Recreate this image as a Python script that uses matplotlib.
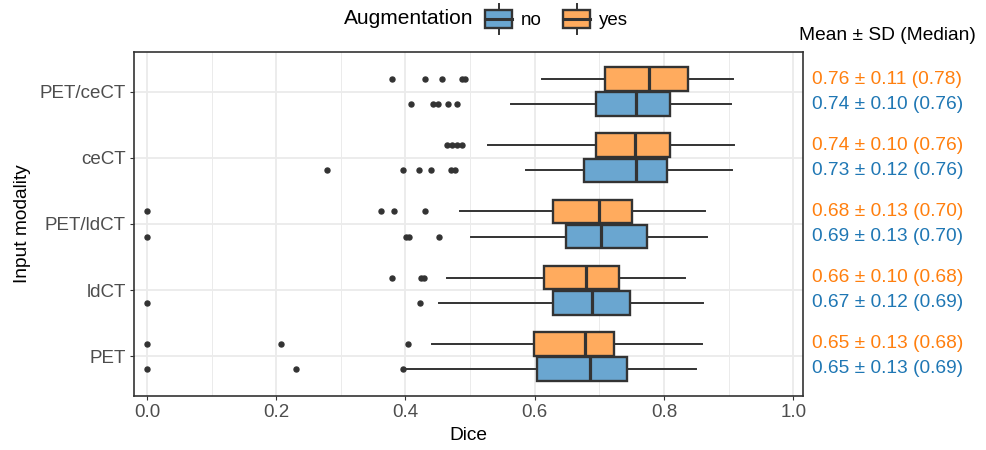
import matplotlib.pyplot as plt
from matplotlib.patches import Rectangle, Patch
from matplotlib.lines import Line2D
from matplotlib.legend_handler import HandlerBase
from matplotlib.transforms import blended_transform_factory

plt.rcParams['font.family'] = ['Liberation Sans', 'DejaVu Sans']

# modalities from bottom to top
modalities = ["PET", "ldCT", "PET/ldCT", "ceCT", "PET/ceCT"]

# box statistics, augmentation = yes
yes_whislo = [0.441, 0.465, 0.485, 0.528, 0.611]
yes_q1 = [0.599, 0.614, 0.628, 0.695, 0.708]
yes_med = [0.677, 0.679, 0.700, 0.755, 0.777]
yes_q3 = [0.723, 0.731, 0.750, 0.810, 0.837]
yes_whishi = [0.858, 0.832, 0.864, 0.908, 0.907]
yes_fliers = [
    [0.0, 0.207, 0.404],
    [0.379, 0.424, 0.428],
    [0.0, 0.362, 0.383, 0.430],
    [0.465, 0.472, 0.480, 0.488],
    [0.379, 0.430, 0.456, 0.487, 0.492],
]

# box statistics, augmentation = no
no_whislo = [0.399, 0.452, 0.501, 0.587, 0.564]
no_q1 = [0.604, 0.629, 0.648, 0.676, 0.695]
no_med = [0.686, 0.689, 0.703, 0.756, 0.756]
no_q3 = [0.742, 0.748, 0.773, 0.805, 0.809]
no_whishi = [0.850, 0.860, 0.867, 0.905, 0.903]
no_fliers = [
    [0.0, 0.230, 0.396],
    [0.0, 0.422],
    [0.0, 0.401, 0.405, 0.452],
    [0.279, 0.396, 0.421, 0.440, 0.470, 0.477],
    [0.408, 0.443, 0.451, 0.466, 0.480],
]

# summary labels
yes_labels = ["0.65 ± 0.13 (0.68)", "0.66 ± 0.10 (0.68)", "0.68 ± 0.13 (0.70)",
              "0.74 ± 0.10 (0.76)", "0.76 ± 0.11 (0.78)"]
no_labels = ["0.65 ± 0.13 (0.69)", "0.67 ± 0.12 (0.69)", "0.69 ± 0.13 (0.70)",
             "0.73 ± 0.12 (0.76)", "0.74 ± 0.10 (0.76)"]

BLUE = "#1f77b4"
ORANGE = "#ff7f0e"
BLUE_FILL = "#6aa6d0"
ORANGE_FILL = "#ffab5e"
EDGE = "#333333"


def make_stats(lo, q1, med, q3, hi, fl):
    return [dict(whislo=a, q1=b, med=c, q3=d, whishi=e, fliers=f)
            for a, b, c, d, e, f in zip(lo, q1, med, q3, hi, fl)]


fig = plt.figure(figsize=(9.87, 4.5), dpi=100)
ax = fig.add_axes([134 / 987, 1 - 396 / 450, (803 - 134) / 987, (396 - 52) / 450])

pos = list(range(1, len(modalities) + 1))
off = 0.19
bw = 0.36

groups = [
    (make_stats(yes_whislo, yes_q1, yes_med, yes_q3, yes_whishi, yes_fliers), +off, ORANGE_FILL),
    (make_stats(no_whislo, no_q1, no_med, no_q3, no_whishi, no_fliers), -off, BLUE_FILL),
]
for stats, dy, fill in groups:
    ax.bxp(stats, positions=[p + dy for p in pos], widths=bw, vert=False,
           showcaps=False, patch_artist=True,
           boxprops=dict(facecolor=fill, edgecolor=EDGE, linewidth=1.7),
           medianprops=dict(color=EDGE, linewidth=2.3),
           whiskerprops=dict(color=EDGE, linewidth=1.4),
           flierprops=dict(marker='o', markersize=3.6, markerfacecolor=EDGE,
                           markeredgecolor=EDGE),
           zorder=3)

ax.set_xlim(-0.02, 1.015)
ax.set_ylim(0.4, 5.6)
ax.set_yticks(pos)
ax.set_yticklabels(modalities)
ax.set_xticks([0, 0.2, 0.4, 0.6, 0.8, 1.0])
ax.set_xticklabels(["0.0", "0.2", "0.4", "0.6", "0.8", "1.0"])
ax.set_xticks([0.1, 0.3, 0.5, 0.7, 0.9], minor=True)

ax.grid(True, which='major', color='#ebebeb', linewidth=1.3, zorder=0)
ax.grid(True, which='minor', axis='x', color='#ebebeb', linewidth=0.7, zorder=0)
ax.set_axisbelow(True)
ax.tick_params(which='major', length=3, color=EDGE, labelsize=13.5,
               labelcolor='#4d4d4d', pad=3)
ax.tick_params(which='minor', length=0)
for s in ax.spines.values():
    s.set_color(EDGE)
    s.set_linewidth(1.2)

ax.set_xlabel("Dice", fontsize=13.8, labelpad=4)
ax.set_ylabel("Input modality", fontsize=13.8, labelpad=6)

# mean/SD/median column on the right
tr = blended_transform_factory(fig.transFigure, ax.transData)
for p, ty, tn in zip(pos, yes_labels, no_labels):
    ax.text(812 / 987, p + off, ty, transform=tr, color=ORANGE, fontsize=13.8,
            va='center', ha='left', clip_on=False)
    ax.text(812 / 987, p - off, tn, transform=tr, color=BLUE, fontsize=13.8,
            va='center', ha='left', clip_on=False)
fig.text(887 / 987, 1 - 36 / 450, "Mean ± SD (Median)", fontsize=13.8,
         ha='center', va='center')


class BoxKey(HandlerBase):
    def create_artists(self, legend, orig_handle, xdescent, ydescent,
                       width, height, fontsize, trans):
        cx = width / 2 - xdescent
        cy = height / 2 - ydescent
        bh = 13.0
        ext = 4.5
        rect = Rectangle((-xdescent, cy - bh / 2), width, bh,
                         facecolor=orig_handle.get_facecolor(), edgecolor=EDGE,
                         linewidth=1.7, transform=trans)
        med = Line2D([-xdescent, width - xdescent], [cy, cy], color=EDGE,
                     linewidth=2.2, transform=trans)
        top = Line2D([cx, cx], [cy + bh / 2, cy + bh / 2 + ext], color=EDGE,
                     linewidth=1.4, transform=trans)
        bot = Line2D([cx, cx], [cy - bh / 2, cy - bh / 2 - ext], color=EDGE,
                     linewidth=1.4, transform=trans)
        return [rect, med, top, bot]


handles = [Patch(facecolor=BLUE_FILL), Patch(facecolor=ORANGE_FILL)]
fig.legend(handles, ["no", "yes"], handler_map={Patch: BoxKey()}, ncol=2,
           loc='center left', bbox_to_anchor=(485 / 987, 1 - 20 / 450),
           frameon=False, fontsize=13.5, handlelength=1.45, handleheight=0.95,
           handletextpad=0.45, columnspacing=1.15, borderpad=0, borderaxespad=0)
fig.text(473 / 987, 1 - 18 / 450, "Augmentation", fontsize=15,
         ha='right', va='center')

fig.savefig("out.png", dpi=100)
